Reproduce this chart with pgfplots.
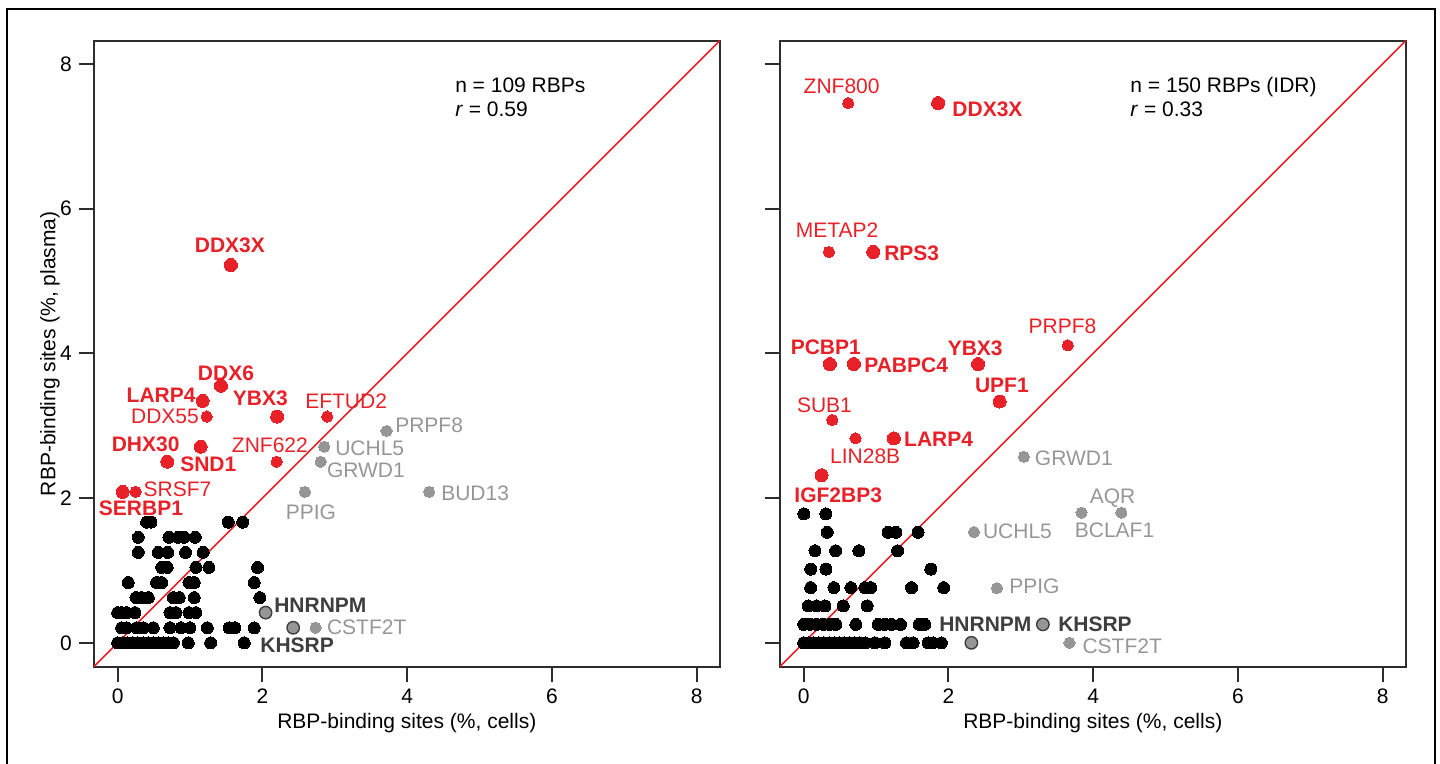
\documentclass[border=0pt]{standalone}
\usepackage{fontspec}
\setmainfont{Liberation Sans}
\usepackage{pgfplots}
\pgfplotsset{compat=1.18}
\definecolor{myred}{RGB}{232,32,39}
\definecolor{mygray}{RGB}{150,150,150}
\definecolor{dkgray}{RGB}{62,62,62}
\definecolor{axgray}{RGB}{45,45,45}
\newcommand{\lf}{\fontsize{10.5bp}{12.6bp}\selectfont}
\tikzset{
  L/.style={inner sep=0pt, font=\lf},
  R/.style={L, text=myred},
  RB/.style={L, text=myred, font=\lf\bfseries},
  G/.style={L, text=mygray},
  DB/.style={L, text=dkgray, font=\lf\bfseries},
}
\pgfplotsset{
  panel/.style={
    scale only axis, width=313bp, height=313bp,
    xmin=-0.33, xmax=8.32, ymin=-0.33, ymax=8.32,
    xtick={0,2,4,6,8}, ytick={0,2,4,6,8},
    tick align=outside, xtick pos=left, ytick pos=left,
    major tick length=7.5bp,
    axis line style={draw=axgray, line width=1bp},
    tick style={draw=axgray, line width=1bp},
    ticklabel style={font=\lf, text=black},
    /pgf/number format/assume math mode=true,
    xlabel={RBP-binding sites (\%, cells)},
    every axis x label/.style={at={(axis description cs:0.5,-0.09)}, anchor=center, font=\lf},
    every axis y label/.style={at={(axis description cs:-0.07,0.5)}, rotate=90, anchor=center, font=\lf},
    clip=false,
  },
  blk/.style={only marks, mark=*, color=black, mark size=3bp, mark options={draw=black, fill=black, line width=0pt}},
  gsm/.style={only marks, mark=*, color=mygray, mark size=2.8bp, mark options={draw=mygray, fill=mygray, line width=0pt}},
  gout/.style={only marks, mark=*, color=dkgray, mark size=3.1bp, mark options={draw=dkgray, fill=mygray, line width=0.7bp}},
  rsm/.style={only marks, mark=*, color=myred, mark size=2.8bp, mark options={draw=myred, fill=myred, line width=0pt}},
  rbig/.style={only marks, mark=*, color=myred, mark size=3.25bp, mark options={draw=myred, fill=myred, line width=0pt}},
  diag/.style={myred, line width=0.8bp, no marks},
}
\begin{document}
\begin{tikzpicture}
\useasboundingbox (0,0) rectangle (720bp,382bp);
\draw[line width=1bp, black] (3.7bp,-2bp) -- (3.7bp,377.4bp) -- (717.3bp,377.4bp) -- (717.3bp,-2bp);

% ---------------- Left panel ----------------
\begin{axis}[panel, at={(46.9bp,48.65bp)}, anchor=south west,
  ylabel={RBP-binding sites (\%, plasma)}]
\addplot[diag] coordinates {(-0.33,-0.33) (8.32,8.32)};
\addplot[blk] table {
x y
0.40 1.667
0.46 1.667
1.528 1.667
1.727 1.667
0.285 1.458
0.709 1.458
0.837 1.458
0.920 1.458
1.072 1.458
0.285 1.25
0.561 1.25
0.691 1.25
0.939 1.25
1.182 1.25
0.608 1.042
0.685 1.042
1.081 1.042
1.261 1.042
1.934 1.042
0.146 0.833
0.539 0.833
0.608 0.833
0.985 0.833
1.058 0.833
1.887 0.833
0.253 0.625
0.331 0.625
0.423 0.625
0.768 0.625
0.851 0.625
1.058 0.625
1.965 0.625
0.0 0.417
0.055 0.417
0.124 0.417
0.239 0.417
0.722 0.417
0.805 0.417
0.985 0.417
1.081 0.417
0.055 0.208
0.124 0.208
0.262 0.208
0.354 0.208
0.492 0.208
0.722 0.208
0.874 0.208
0.999 0.208
1.238 0.208
1.541 0.208
1.620 0.208
1.887 0.208
0.0 0
0.07 0
0.14 0
0.21 0
0.28 0
0.35 0
0.42 0
0.49 0
0.56 0
0.63 0
0.70 0
0.77 0
0.975 0
1.285 0
1.749 0
};
\addplot[gsm] table {
x y
3.715 2.927
2.854 2.710
2.804 2.502
2.587 2.086
4.304 2.086
2.735 0.208
};
\addplot[gout] table {
x y
2.044 0.417
2.425 0.208
};
\addplot[rsm] table {
x y
1.229 3.126
2.895 3.126
2.196 2.502
0.249 2.086
};
\addplot[rbig] table {
x y
1.565 5.221
1.427 3.551
1.174 3.343
2.204 3.126
1.146 2.710
0.685 2.502
0.069 2.086
};
\node[L, anchor=base west] at (axis cs:4.659,7.61) {n = 109 RBPs};
\node[L, anchor=base west] at (axis cs:4.659,7.27) {\textit{r} = 0.59};
\node[RB, anchor=base] at (axis cs:1.551,5.391) {DDX3X};
\node[RB, anchor=base] at (axis cs:1.496,3.630) {DDX6};
\node[RB, anchor=base east] at (axis cs:1.081,3.325) {LARP4};
\node[R, anchor=base east] at (axis cs:1.127,3.033) {DDX55};
\node[RB, anchor=base] at (axis cs:1.972,3.283) {YBX3};
\node[R, anchor=base] at (axis cs:3.157,3.241) {EFTUD2};
\node[RB, anchor=base east] at (axis cs:0.860,2.641) {DHX30};
\node[RB, anchor=base west] at (axis cs:0.860,2.363) {SND1};
\node[R, anchor=base east] at (axis cs:2.633,2.627) {ZNF622};
\node[R, anchor=base west] at (axis cs:0.354,2.017) {SRSF7};
\node[RB, anchor=base] at (axis cs:0.322,1.76) {SERBP1};
\node[G, anchor=base west] at (axis cs:3.830,2.908) {PRPF8};
\node[G, anchor=base west] at (axis cs:3.001,2.594) {UCHL5};
\node[G, anchor=base west] at (axis cs:2.887,2.280) {GRWD1};
\node[G, anchor=base] at (axis cs:2.670,1.704) {PPIG};
\node[G, anchor=base west] at (axis cs:4.466,1.967) {BUD13};
\node[DB, anchor=base west] at (axis cs:2.159,0.422) {HNRNPM};
\node[G, anchor=base west] at (axis cs:2.887,0.121) {CSTF2T};
\node[DB, anchor=base west] at (axis cs:1.966,-0.133) {KHSRP};
\end{axis}

% ---------------- Right panel ----------------
\begin{axis}[panel, at={(389.9bp,48.65bp)}, anchor=south west,
  yticklabels={}]
\addplot[diag] coordinates {(-0.33,-0.33) (8.32,8.32)};
\addplot[blk] table {
x y
0.004 1.781
0.307 1.781
0.326 1.527
1.167 1.527
1.273 1.527
1.581 1.527
0.156 1.272
0.441 1.272
0.763 1.272
1.297 1.272
0.097 1.018
0.308 1.018
1.756 1.018
0.097 0.763
0.418 0.763
0.652 0.763
0.846 0.763
0.928 0.763
1.490 0.763
1.935 0.763
0.063 0.509
0.179 0.509
0.294 0.509
0.546 0.509
0.877 0.509
0.0 0.2545
0.087 0.2545
0.179 0.2545
0.270 0.2545
0.363 0.2545
0.446 0.2545
0.721 0.2545
1.029 0.2545
1.121 0.2545
1.214 0.2545
1.338 0.2545
1.594 0.2545
1.673 0.2545
0.0 0
0.07 0
0.14 0
0.21 0
0.28 0
0.35 0
0.42 0
0.49 0
0.56 0
0.63 0
0.70 0
0.77 0
0.85 0
0.983 0
1.121 0
1.421 0
1.512 0
1.719 0
1.788 0
1.903 0
};
\addplot[gsm] table {
x y
3.043 2.571
4.390 1.799
3.839 1.799
2.353 1.531
2.670 0.754
3.673 0
};
\addplot[gout] table {
x y
2.317 0
3.305 0.2545
};
\addplot[rsm] table {
x y
0.615 7.458
0.349 5.401
3.650 4.111
0.395 3.079
0.717 2.825
};
\addplot[rbig] table {
x y
1.857 7.458
0.960 5.401
0.363 3.852
0.694 3.852
2.409 3.852
2.708 3.334
1.246 2.825
0.248 2.316
};
\node[L, anchor=base west] at (axis cs:4.51,7.61) {n = 150 RBPs (IDR)};
\node[L, anchor=base west] at (axis cs:4.51,7.27) {\textit{r} = 0.33};
\node[R, anchor=base] at (axis cs:0.524,7.596) {ZNF800};
\node[RB, anchor=base west] at (axis cs:2.050,7.273) {DDX3X};
\node[R, anchor=base] at (axis cs:0.462,5.599) {METAP2};
\node[RB, anchor=base west] at (axis cs:1.108,5.284) {RPS3};
\node[R, anchor=base] at (axis cs:3.577,4.268) {PRPF8};
\node[RB, anchor=base] at (axis cs:0.305,3.981) {PCBP1};
\node[RB, anchor=base west] at (axis cs:0.832,3.741) {PABPC4};
\node[RB, anchor=base] at (axis cs:2.370,3.972) {YBX3};
\node[RB, anchor=base] at (axis cs:2.738,3.459) {UPF1};
\node[R, anchor=base] at (axis cs:0.287,3.182) {SUB1};
\node[R, anchor=base] at (axis cs:0.850,2.478) {LIN28B};
\node[RB, anchor=base west] at (axis cs:1.383,2.710) {LARP4};
\node[RB, anchor=base] at (axis cs:0.477,1.938) {IGF2BP3};
\node[G, anchor=base west] at (axis cs:3.190,2.447) {GRWD1};
\node[G, anchor=base] at (axis cs:4.269,1.924) {AQR};
\node[G, anchor=base] at (axis cs:4.295,1.452) {BCLAF1};
\node[G, anchor=base west] at (axis cs:2.473,1.438) {UCHL5};
\node[G, anchor=base west] at (axis cs:2.836,0.675) {PPIG};
\node[DB, anchor=base east] at (axis cs:3.153,0.153) {HNRNPM};
\node[DB, anchor=base west] at (axis cs:3.512,0.153) {KHSRP};
\node[G, anchor=base west] at (axis cs:3.848,-0.143) {CSTF2T};
\end{axis}
\end{tikzpicture}
\end{document}
